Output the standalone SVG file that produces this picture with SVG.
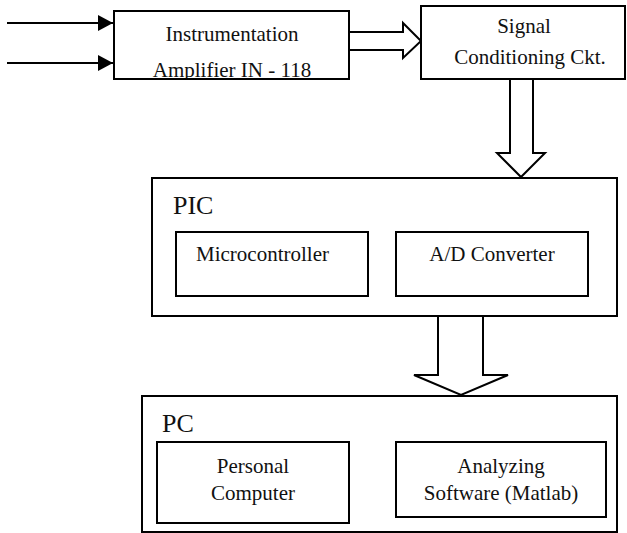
<svg xmlns="http://www.w3.org/2000/svg" width="627" height="533" viewBox="0 0 627 533">
  <style>
    .box { fill: #fff; stroke: #000; stroke-width: 2; }
    .wire { fill: none; stroke: #000; stroke-width: 2; }
    .hollow { fill: #fff; stroke: #000; stroke-width: 2; stroke-linejoin: miter; }
    .mid { text-anchor: middle; }
  </style>
  <defs>
    <marker id="solidHead" markerWidth="15" markerHeight="16" refX="15" refY="8" orient="auto" markerUnits="userSpaceOnUse">
      <path d="M0,0 L15,8 L0,16 Z" fill="#000"/>
    </marker>
    <clipPath id="ampClip">
      <rect x="115" y="12" width="233" height="66"/>
    </clipPath>
  </defs>
  <rect width="627" height="533" fill="#fff"/>

  <g id="connectors">
    <line class="wire" x1="7" y1="23" x2="113" y2="23" marker-end="url(#solidHead)"/>
    <line class="wire" x1="7" y1="63" x2="113" y2="63" marker-end="url(#solidHead)"/>
    <!-- amplifier to signal conditioning -->
    <path class="hollow" d="M349,32 L403,32 L403,23 L421,41 L403,58 L403,50 L349,50"/>
    <!-- signal conditioning to PIC -->
    <path class="hollow" d="M510,79 L510,153 L497,153 L521,177 L545,153 L533,153 L533,79"/>
    <!-- PIC to PC -->
    <path class="hollow" d="M438,316 L438,375 L414,375 L461,395 L508,375 L483,375 L483,316"/>
  </g>

  <g id="amplifier">
    <rect class="box" x="114" y="11" width="235" height="68"/>
    <text class="mid" x="232" y="41" font-family="Liberation Serif, serif" font-size="21" fill="#111">Instrumentation</text>
    <text class="mid" x="232" y="77" font-family="Liberation Serif, serif" font-size="21" fill="#111" clip-path="url(#ampClip)">Amplifier IN - 118</text>
  </g>

  <g id="signal-conditioning">
    <rect class="box" x="421" y="6" width="204" height="73"/>
    <text class="mid" x="524" y="33" font-family="Liberation Serif, serif" font-size="21" fill="#111">Signal</text>
    <text class="mid" x="530" y="64" font-family="Liberation Serif, serif" font-size="21" fill="#111">Conditioning Ckt.</text>
  </g>

  <g id="pic">
    <rect class="box" x="152" y="178" width="465" height="138"/>
    <text x="173" y="214" font-family="Liberation Serif, serif" font-size="26" fill="#111">PIC</text>
    <g id="microcontroller">
      <rect class="box" x="176" y="232" width="192" height="64"/>
      <text x="196" y="261" font-family="Liberation Serif, serif" font-size="21" fill="#111">Microcontroller</text>
    </g>
    <g id="ad-converter">
      <rect class="box" x="396" y="232" width="192" height="64"/>
      <text class="mid" x="492" y="261" font-family="Liberation Serif, serif" font-size="21" fill="#111">A/D Converter</text>
    </g>
  </g>

  <g id="pc">
    <rect class="box" x="142" y="396" width="475" height="136"/>
    <text x="162" y="432" font-family="Liberation Serif, serif" font-size="26" fill="#111">PC</text>
    <g id="personal-computer">
      <rect class="box" x="157" y="442" width="192" height="81"/>
      <text class="mid" x="253" y="473" font-family="Liberation Serif, serif" font-size="21" fill="#111">Personal</text>
      <text class="mid" x="253" y="500" font-family="Liberation Serif, serif" font-size="21" fill="#111">Computer</text>
    </g>
    <g id="analyzing-software">
      <rect class="box" x="396" y="442" width="210" height="75"/>
      <text class="mid" x="501" y="473" font-family="Liberation Serif, serif" font-size="21" fill="#111">Analyzing</text>
      <text class="mid" x="501" y="500" font-family="Liberation Serif, serif" font-size="21" fill="#111">Software (Matlab)</text>
    </g>
  </g>
</svg>
